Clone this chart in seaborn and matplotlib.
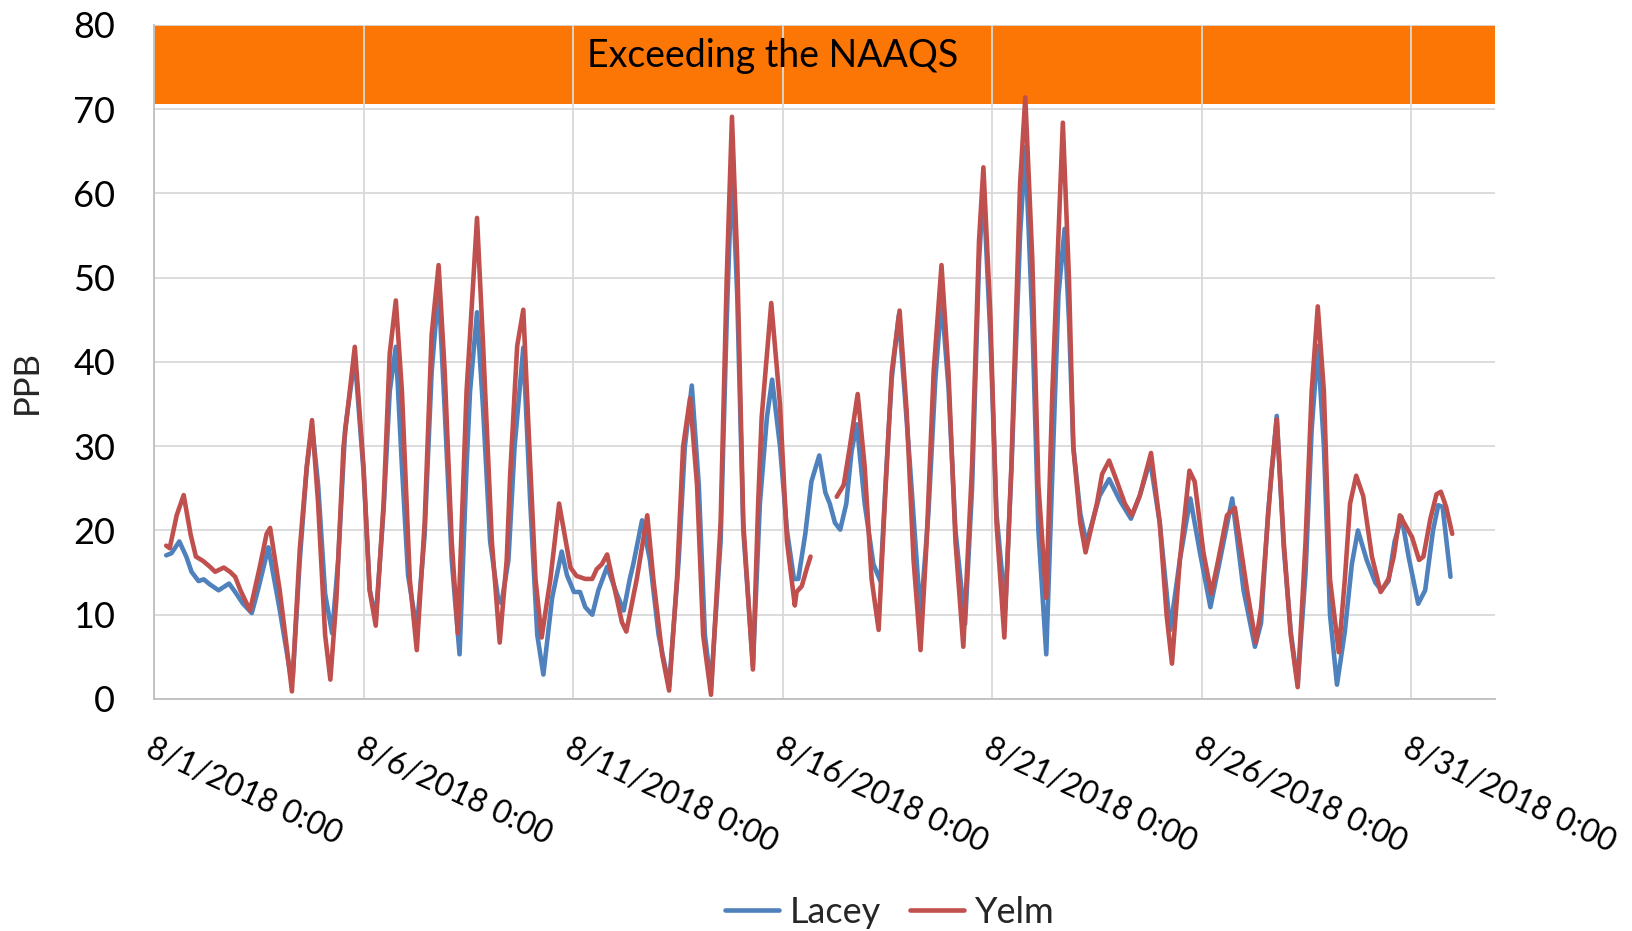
import numpy as np
import pandas as pd
import matplotlib
matplotlib.use("Agg")
import matplotlib.pyplot as plt
import seaborn as sns

# ---------------- data (hours since 2018-08-01 00:00, ppb) ----------------
lacey_hours = [7, 10, 14.5, 18.5, 21.5, 25.5, 28.5, 32, 37, 40, 43, 46.5, 51, 56, 59.5, 65.5,
               72, 78, 79.5, 83.5, 87.5, 90.5, 94, 98, 102, 105.5, 109.5, 115, 120, 123.5, 127,
               131.5, 135, 138.5, 142, 145.5, 150.5, 155, 159, 163, 166.5, 170.5, 175, 179, 181,
               185, 188.5, 192.5, 197, 199, 203, 206.5, 211.5, 215.5, 219.5, 223, 228, 233.5,
               236.5, 240.5, 244, 247, 251, 254.5, 259.5, 265, 269, 272.5, 274.5, 279.5, 284,
               289, 295, 300.5, 304, 308, 312, 315.5, 319, 324.5, 328, 331, 334, 337.5, 343,
               347, 351, 354, 358.5, 362.5, 366.5, 369, 373, 376.5, 381, 384.5, 387, 390, 393,
               396.5, 399.5, 402.5, 407, 412, 416, 419.5, 422.5, 426.5, 430, 433, 439, 443.5,
               447.5, 451, 455, 459, 464.5, 468.5, 472.5, 475, 479, 482.5, 487.5, 491, 496, 499,
               503, 506.5, 511, 515, 518, 521.5, 524, 526.5, 530.5, 534, 541.5, 547, 553,
               559.5, 564.5, 570.5, 576, 582, 587.5, 593.5, 599, 605, 610.5, 617.5, 624, 630.5,
               634, 638, 643, 647, 651, 655, 659.5, 663, 666.5, 670, 673.5, 677.5, 682, 686,
               689.5, 694.5, 699.5, 703, 707, 710.5, 714.5, 718.5, 724, 728, 732.5, 735.5, 738,
               742.5]
lacey_ppb = [17.05, 17.3, 18.7, 16.9, 15.1, 14.0, 14.2, 13.6, 12.9, 13.3, 13.7, 12.7, 11.3, 10.2,
             12.9, 18.0, 10.6, 3.1, 2.6, 16.5, 27.5, 32.5, 25.4, 12.5, 7.8, 16.5, 32.1, 40.5,
             27.0, 13.0, 9.5, 22.5, 36.5, 41.8, 27.6, 14.7, 8.2, 19.5, 38.8, 48.8, 34.3, 16.5,
             5.3, 27.6, 36.5, 45.9, 34.3, 18.7, 12.0, 11.35, 16.5, 29.9, 41.7, 23.2, 7.6, 2.9,
             12.0, 17.5, 14.7, 12.7, 12.7, 10.9, 10.0, 12.9, 15.7, 12.5, 10.5, 14.25, 16.0,
             21.2, 16.5, 7.6, 1.5, 16.5, 29.9, 37.2, 25.4, 7.6, 1.5, 18.7, 45.0, 63.3, 48.0,
             20.0, 4.0, 23.2, 33.4, 37.9, 30.0, 20.0, 14.25, 14.25, 19.6, 25.8, 28.9, 24.5,
             23.2, 20.9, 20.1, 23.2, 29.4, 32.6, 23.2, 16.0, 14.0, 27.6, 38.0, 45.5, 36.0, 27.6,
             9.8, 22.0, 38.0, 47.5, 37.0, 20.0, 8.9, 25.0, 52.0, 60.8, 43.0, 22.0, 10.7, 27.0,
             55.0, 65.5, 45.0, 20.0, 5.3, 30.0, 48.0, 55.8, 45.0, 29.9, 22.0, 18.5, 24.1, 26.1,
             23.6, 21.4, 24.1, 28.3, 20.9, 8.2, 16.5, 23.8, 17.4, 10.9, 16.5, 23.8, 12.9, 6.2,
             9.0, 22.0, 33.6, 18.0, 8.0, 1.8, 15.0, 32.0, 41.9, 30.0, 10.0, 1.7, 8.0, 16.0, 20.0,
             16.5, 13.8, 12.9, 14.0, 18.7, 21.6, 16.9, 11.3, 12.9, 20.0, 23.0, 22.8, 14.5]

# NaN marks the break in the Yelm record
yelm_hours = [7, 9, 13, 17, 21, 24, 28, 32, 35, 40, 43.5, 46.5, 49.5, 55, 60.5, 64.5, 66.5, 72,
              76, 79, 83.5, 87.5, 90.5, 94, 98, 101, 104.5, 108.5, 115, 120, 123.5, 127, 131.5,
              135, 138.5, 142, 146.5, 150.5, 155, 159, 163, 166.5, 170.5, 174, 179, 181, 185,
              188.5, 193.5, 198, 202, 204, 208, 211.5, 214.5, 218.5, 222, 227, 232, 238.5, 242,
              247, 251, 253.5, 256.5, 259.5, 264, 268, 270.5, 276.5, 282.5, 286, 291, 295,
              299.5, 303, 307, 311, 314.5, 319, 324.5, 328, 331, 334, 337.5, 343, 346, 348,
              353.5, 358.5, 362.5, 367, 368, 371, 374, 376, 384, 391, 395, 398.5, 403, 407, 411,
              415, 418.5, 422.5, 427, 431, 435, 439, 442.5, 446.5, 451, 455, 459, 463.5, 468.5,
              472.5, 475, 479, 482.5, 487, 491, 496, 499, 503, 506.5, 511, 514.5, 520.5, 524,
              526.5, 530.5, 533.5, 540, 543, 547, 551.5, 556, 560, 564.5, 571, 576, 580, 583,
              587.5, 593, 596, 601, 605.5, 609.5, 614.5, 619, 626, 631, 634, 640, 643, 647, 651,
              655, 659.5, 663, 666.5, 670, 673.5, 678.5, 682, 685, 688.5, 692.5, 697.5, 702.5,
              707, 710, 713.5, 720.5, 724.5, 727, 731, 734.5, 737, 740, 743.5]
yelm_ppb = [18.2, 17.9, 21.8, 24.2, 19.5, 16.9, 16.4, 15.7, 15.1, 15.6, 15.1, 14.5, 12.9, 10.5,
            15.6, 19.6, 20.3, 12.9, 6.2, 0.9, 17.8, 27.6, 33.1, 23.2, 7.6, 2.3, 12.0, 29.9, 41.8,
            27.6, 12.9, 8.7, 23.2, 41.0, 47.3, 36.5, 14.2, 5.8, 20.9, 43.2, 51.5, 38.8, 18.7, 7.8,
            36.5, 43.2, 57.1, 41.9, 18.7, 6.7, 16.5, 26.7, 41.9, 46.2, 32.1, 14.2, 7.3, 14.2,
            23.2, 15.6, 14.6, 14.25, 14.25, 15.4, 16.0, 17.15, 12.9, 9.1, 8.0, 14.25, 21.8, 14.2,
            5.3, 1.0, 14.2, 29.9, 35.7, 25.4, 7.6, 0.5, 20.9, 49.9, 69.1, 52.2, 20.9, 3.5, 23.2,
            33.4, 47.0, 35.0, 18.7, 11.1, 12.7, 13.4, 15.6, 16.9, np.nan, 24.0, 25.4, 29.9, 36.2,
            27.6, 14.2, 8.2, 23.2, 38.8, 46.1, 34.3, 16.5, 5.8, 18.7, 38.8, 51.5, 38.8, 18.7, 6.2,
            27.6, 54.4, 63.1, 45.5, 20.9, 7.3, 27.6, 61.1, 71.4, 52.2, 25.4, 12.0, 36.5, 68.4,
            49.9, 29.9, 20.9, 17.4, 23.2, 26.7, 28.3, 25.8, 23.2, 21.8, 24.1, 29.2, 20.9, 9.8,
            4.2, 16.5, 27.1, 25.8, 17.4, 12.5, 16.5, 21.8, 22.7, 12.9, 6.7, 10.7, 27.0, 33.2,
            18.7, 7.6, 1.4, 18.7, 36.5, 46.6, 36.5, 14.2, 5.55, 14.2, 23.2, 26.5, 24.1, 16.9,
            12.7, 14.25, 16.9, 21.8, 19.2, 16.5, 16.9, 21.4, 24.3, 24.6, 22.8, 19.6]

sites = ["Lacey", "Yelm"]
tick_labels = ["8/1/2018 0:00", "8/6/2018 0:00", "8/11/2018 0:00", "8/16/2018 0:00",
               "8/21/2018 0:00", "8/26/2018 0:00", "8/31/2018 0:00"]
naaqs_low, naaqs_high = 70.6, 80
band_text = "Exceeding the NAAQS"

# ---------------- build long table ----------------
start = pd.Timestamp("2018-08-01")
frames = []
for site, hrs, vals in [("Lacey", lacey_hours, lacey_ppb), ("Yelm", yelm_hours, yelm_ppb)]:
    d = pd.DataFrame({"hours": hrs, "PPB": vals})
    d["seg"] = site + d["PPB"].isna().cumsum().astype(str)
    d = d.dropna()
    d["time"] = start + pd.to_timedelta(d["hours"], unit="h")
    d["site"] = site
    frames.append(d)
df = pd.concat(frames, ignore_index=True)

# ---------------- style ----------------
sns.set_style("white")
plt.rcParams["font.family"] = ["Lato", "DejaVu Sans"]

blue = "#4F81BD"
red = "#C0504D"
orange = "#FC7605"
grid_c = "#D9D9D9"

fig = plt.figure(figsize=(16.33, 9.31), dpi=100)
ax = fig.add_axes([0.0943, 0.2492, 0.8212, 0.7240])

ax.axhspan(naaqs_low, naaqs_high, color=orange, zorder=0.4, lw=0)

sns.lineplot(data=df, x="time", y="PPB", hue="site", units="seg", estimator=None,
             palette={"Lacey": blue, "Yelm": red}, hue_order=sites, lw=3.3, ax=ax,
             sort=True, solid_joinstyle="round", solid_capstyle="round")

ax.set_xlim(start, start + pd.Timedelta(days=32))
ax.set_ylim(0, 80)
ax.set_yticks(np.arange(0, 81, 10))
ticks = pd.date_range(start, periods=len(tick_labels), freq="5D")
ax.set_xticks(ticks)
ax.set_xticklabels(tick_labels)

ax.set_axisbelow(True)
ax.grid(True, color=grid_c, lw=1.3, zorder=0.5)
for s in ["top", "right"]:
    ax.spines[s].set_visible(False)
for s in ["left", "bottom"]:
    ax.spines[s].set_color("#BFBFBF")
    ax.spines[s].set_linewidth(1.3)

ax.tick_params(axis="y", length=0, pad=28, labelsize=26, labelcolor="black")
ax.tick_params(axis="x", length=0, pad=25, labelsize=23, labelcolor="black")
for lab in ax.get_xticklabels():
    lab.set_rotation(-25)
    lab.set_ha("left")
    lab.set_rotation_mode("anchor")

ax.set_xlabel("")
ax.set_ylabel("PPB", fontsize=25)
ax.yaxis.set_label_coords(-0.083, 0.47)

ax.text(0.461, 76.3, band_text, transform=ax.get_yaxis_transform(), ha="center",
        va="center", fontsize=27, color="black", zorder=3)

handles, labels = ax.get_legend_handles_labels()
ax.legend_.remove()
for h in handles:
    h.set_linewidth(3.3)
fig.legend(handles, labels, loc="center", bbox_to_anchor=(0.545, 0.02), ncol=2,
           frameon=False, fontsize=26, handlelength=1.5, handletextpad=0.3,
           columnspacing=0.8)

fig.savefig("out.png", dpi=100)
